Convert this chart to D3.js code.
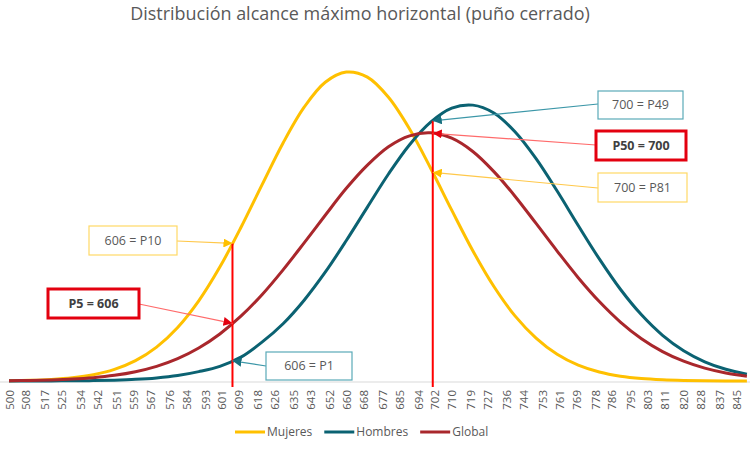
<!DOCTYPE html>
<html>
<head>
<meta charset="utf-8">
<script src="https://cdn.jsdelivr.net/npm/d3@7"></script>
<style>
  body { margin: 0; background: #fff; }
  svg { display: block; font-family: "Open Sans", "Noto Sans", sans-serif; }
</style>
</head>
<body>
<svg id="chart" width="750" height="450"></svg>
<script>
// Chart data
const titleText = "Distribución alcance máximo horizontal (puño cerrado)";
const seriesNames = ["Mujeres", "Hombres", "Global"];

// sample points of the density curves (mm)
const xSamples = [500, 510, 520, 530, 540, 550, 560, 570, 580, 590,
                  600, 610, 620, 630, 640, 650, 660, 670, 680, 690,
                  700, 710, 720, 730, 740, 750, 760, 770, 780, 790,
                  800, 810, 820, 830, 840, 850];

// relative density (x 10^4)
const mujeres = [0.09, 0.21, 0.46, 0.94, 1.83, 3.39, 5.96, 9.93, 15.7, 23.5,
                 33.4, 45.0, 57.5, 69.8, 80.3, 87.6, 90.6, 89.1, 83.2, 73.9,
                 62.4, 50.1, 38.2, 27.7, 19.1, 12.6, 7.83, 4.64, 2.62, 1.40,
                 0.71, 0.35, 0.16, 0.07, 0.03, 0.01];
const hombres = [0.01, 0.01, 0.03, 0.06, 0.12, 0.25, 0.48, 0.90, 1.60, 2.75,
                 4.3, 7.0, 11.4, 16.8, 23.7, 31.9, 41.2, 51.0, 60.7, 69.3,
                 75.9, 80.0, 80.9, 78.6, 73.1, 65.2, 55.7, 45.6, 35.8, 26.9,
                 19.4, 13.4, 8.87, 5.63, 3.43, 1.99];
const global = [0.08, 0.16, 0.31, 0.56, 0.98, 1.66, 2.72, 4.29, 6.55, 9.67,
                13.8, 19.0, 25.3, 32.6, 40.5, 48.6, 56.5, 63.3, 68.7, 71.9,
                72.8, 71.2, 67.3, 61.4, 54.2, 46.2, 38.1, 30.3, 23.3, 17.3,
                12.4, 8.63, 5.80, 3.76, 2.35, 1.42];

// category labels shown under the axis
const tickLabels = [500, 508, 517, 525, 534, 542, 551, 559, 567, 576, 584, 593,
                    601, 609, 618, 626, 635, 643, 652, 660, 668, 677, 685, 694,
                    702, 710, 719, 727, 736, 744, 753, 761, 769, 778, 786, 795,
                    803, 811, 820, 828, 837, 845];

// percentile markers (red vertical lines)
const percentileMarks = [606, 701];

// call-outs: text, which curve they point at, at which value
const noteTexts  = ["700 = P49", "P50 = 700", "700 = P81", "606 = P10", "P5 = 606", "606 = P1"];
const noteSeries = ["Hombres", "Global", "Mujeres", "Mujeres", "Global", "Hombres"];
const noteAt     = [701, 701, 701, 606, 606, 606];

// ---------------------------------------------------------------

const svg = d3.select("#chart");
const width = 750;
const baseY = 381;

const colors = { Mujeres: "#ffc000", Hombres: "#0b6272", Global: "#a9272c" };
const seriesData = { Mujeres: mujeres, Hombres: hombres, Global: global };

const x = d3.scaleLinear().domain([500, 851]).range([9, 749]);
const y = d3.scaleLinear().domain([0, 100]).range([baseY, 40]);

// linear read of a curve at a given value, used to anchor the call-outs
function valueAt(name, v) {
    const vals = seriesData[name];
    const i = Math.max(0, Math.min(xSamples.length - 2, d3.bisectRight(xSamples, v) - 1));
    const t = (v - xSamples[i]) / (xSamples[i + 1] - xSamples[i]);
    return vals[i] + t * (vals[i + 1] - vals[i]);
}

// Title, fitted to the width of the original
const title = svg.append("text")
    .attr("x", 360)
    .attr("y", 20)
    .attr("text-anchor", "middle")
    .attr("fill", "#595959")
    .style("font-size", "16px")
    .text(titleText);
const tLen = title.node().getComputedTextLength();
title.style("font-size", (16 * 460 / tLen).toFixed(2) + "px");

// Axis line
svg.append("line")
    .attr("x1", 0).attr("x2", width)
    .attr("y1", baseY + 1).attr("y2", baseY + 1)
    .attr("stroke", "#d9d9d9")
    .attr("stroke-width", 1);

// Rotated category labels
const axis = svg.append("g")
    .attr("transform", `translate(0, ${baseY + 1})`)
    .call(d3.axisBottom(x).tickValues(tickLabels).tickSize(0).tickFormat(d3.format("d")))
    .attr("font-family", null)
    .attr("font-size", null);
axis.select(".domain").remove();
axis.selectAll("text")
    .attr("transform", "rotate(-90)")
    .attr("text-anchor", "end")
    .attr("x", -8)
    .attr("y", 0)
    .attr("dy", "0.35em")
    .attr("fill", "#595959")
    .style("font-size", "11.5px");

// Curves
const line = d3.line()
    .x((d, i) => x(xSamples[i]))
    .y(d => y(d))
    .curve(d3.curveCatmullRom.alpha(0.5));

seriesNames.forEach(name => {
    svg.append("path")
        .datum(seriesData[name])
        .attr("fill", "none")
        .attr("stroke", colors[name])
        .attr("stroke-width", 3)
        .attr("stroke-linejoin", "round")
        .attr("d", line);
});

// Red percentile lines, from the highest curve down past the axis
percentileMarks.forEach(m => {
    const top = d3.max(seriesNames, name => valueAt(name, m));
    svg.append("line")
        .attr("x1", x(m)).attr("x2", x(m))
        .attr("y1", y(top)).attr("y2", baseY + 6)
        .attr("stroke", "#ff0000")
        .attr("stroke-width", 2);
});

// Call-out styles
const styles = {
    Hombres: { border: "#5aaab8", borderW: 1.2, line: "#3c97a8", head: "#17707f", bold: false },
    Mujeres: { border: "#ffd966", borderW: 1.2, line: "#ffc84a", head: "#ffc000", bold: false },
    Global:  { border: "#e3000f", borderW: 3,   line: "#ff6b6b", head: "#e3000f", bold: true }
};

// Box position [x, y, w, h] and the point the arrow leaves from
const noteBoxes = [
    [598, 91, 85, 28], [596, 131, 90, 29], [598, 173, 89, 29],
    [89, 226, 88, 29], [48, 289, 91, 29], [266, 352, 86, 28]
];
const noteFrom = [
    [598, 104], [596, 145], [598, 188],
    [177, 241], [139, 304], [266, 366]
];

const defs = svg.append("defs");
seriesNames.forEach(name => {
    defs.append("marker")
        .attr("id", "head-" + name)
        .attr("viewBox", "0 -5 10 10")
        .attr("refX", 10)
        .attr("refY", 0)
        .attr("markerUnits", "userSpaceOnUse")
        .attr("markerWidth", 9)
        .attr("markerHeight", 9)
        .attr("orient", "auto")
        .append("path")
        .attr("d", "M0,-5L10,0L0,5Z")
        .attr("fill", styles[name].head);
});

noteTexts.forEach((txt, i) => {
    const st = styles[noteSeries[i]];
    const [bx, by, bw, bh] = noteBoxes[i];
    const [fx, fy] = noteFrom[i];
    const tx = x(noteAt[i]);
    const ty = y(valueAt(noteSeries[i], noteAt[i]));

    svg.append("line")
        .attr("x1", fx).attr("y1", fy)
        .attr("x2", tx).attr("y2", ty)
        .attr("stroke", st.line)
        .attr("stroke-width", 1.2)
        .attr("marker-end", `url(#head-${noteSeries[i]})`);

    svg.append("rect")
        .attr("x", bx).attr("y", by)
        .attr("width", bw).attr("height", bh)
        .attr("fill", "#fff")
        .attr("stroke", st.border)
        .attr("stroke-width", st.borderW);

    svg.append("text")
        .attr("x", bx + bw / 2)
        .attr("y", by + bh / 2)
        .attr("dy", "0.35em")
        .attr("text-anchor", "middle")
        .attr("fill", st.bold ? "#404040" : "#595959")
        .style("font-size", "12.5px")
        .style("font-weight", st.bold ? "bold" : "normal")
        .text(txt);
});

// Legend
const legend = svg.append("g").attr("transform", "translate(235, 432)");
let lx = 0;
seriesNames.forEach(name => {
    legend.append("line")
        .attr("x1", lx).attr("x2", lx + 30)
        .attr("y1", 0).attr("y2", 0)
        .attr("stroke", colors[name])
        .attr("stroke-width", 3);
    const t = legend.append("text")
        .attr("x", lx + 32)
        .attr("y", 0)
        .attr("dy", "0.35em")
        .attr("fill", "#595959")
        .style("font-size", "12px")
        .text(name);
    lx += 32 + t.node().getComputedTextLength() + 12;
});
</script>
</body>
</html>
